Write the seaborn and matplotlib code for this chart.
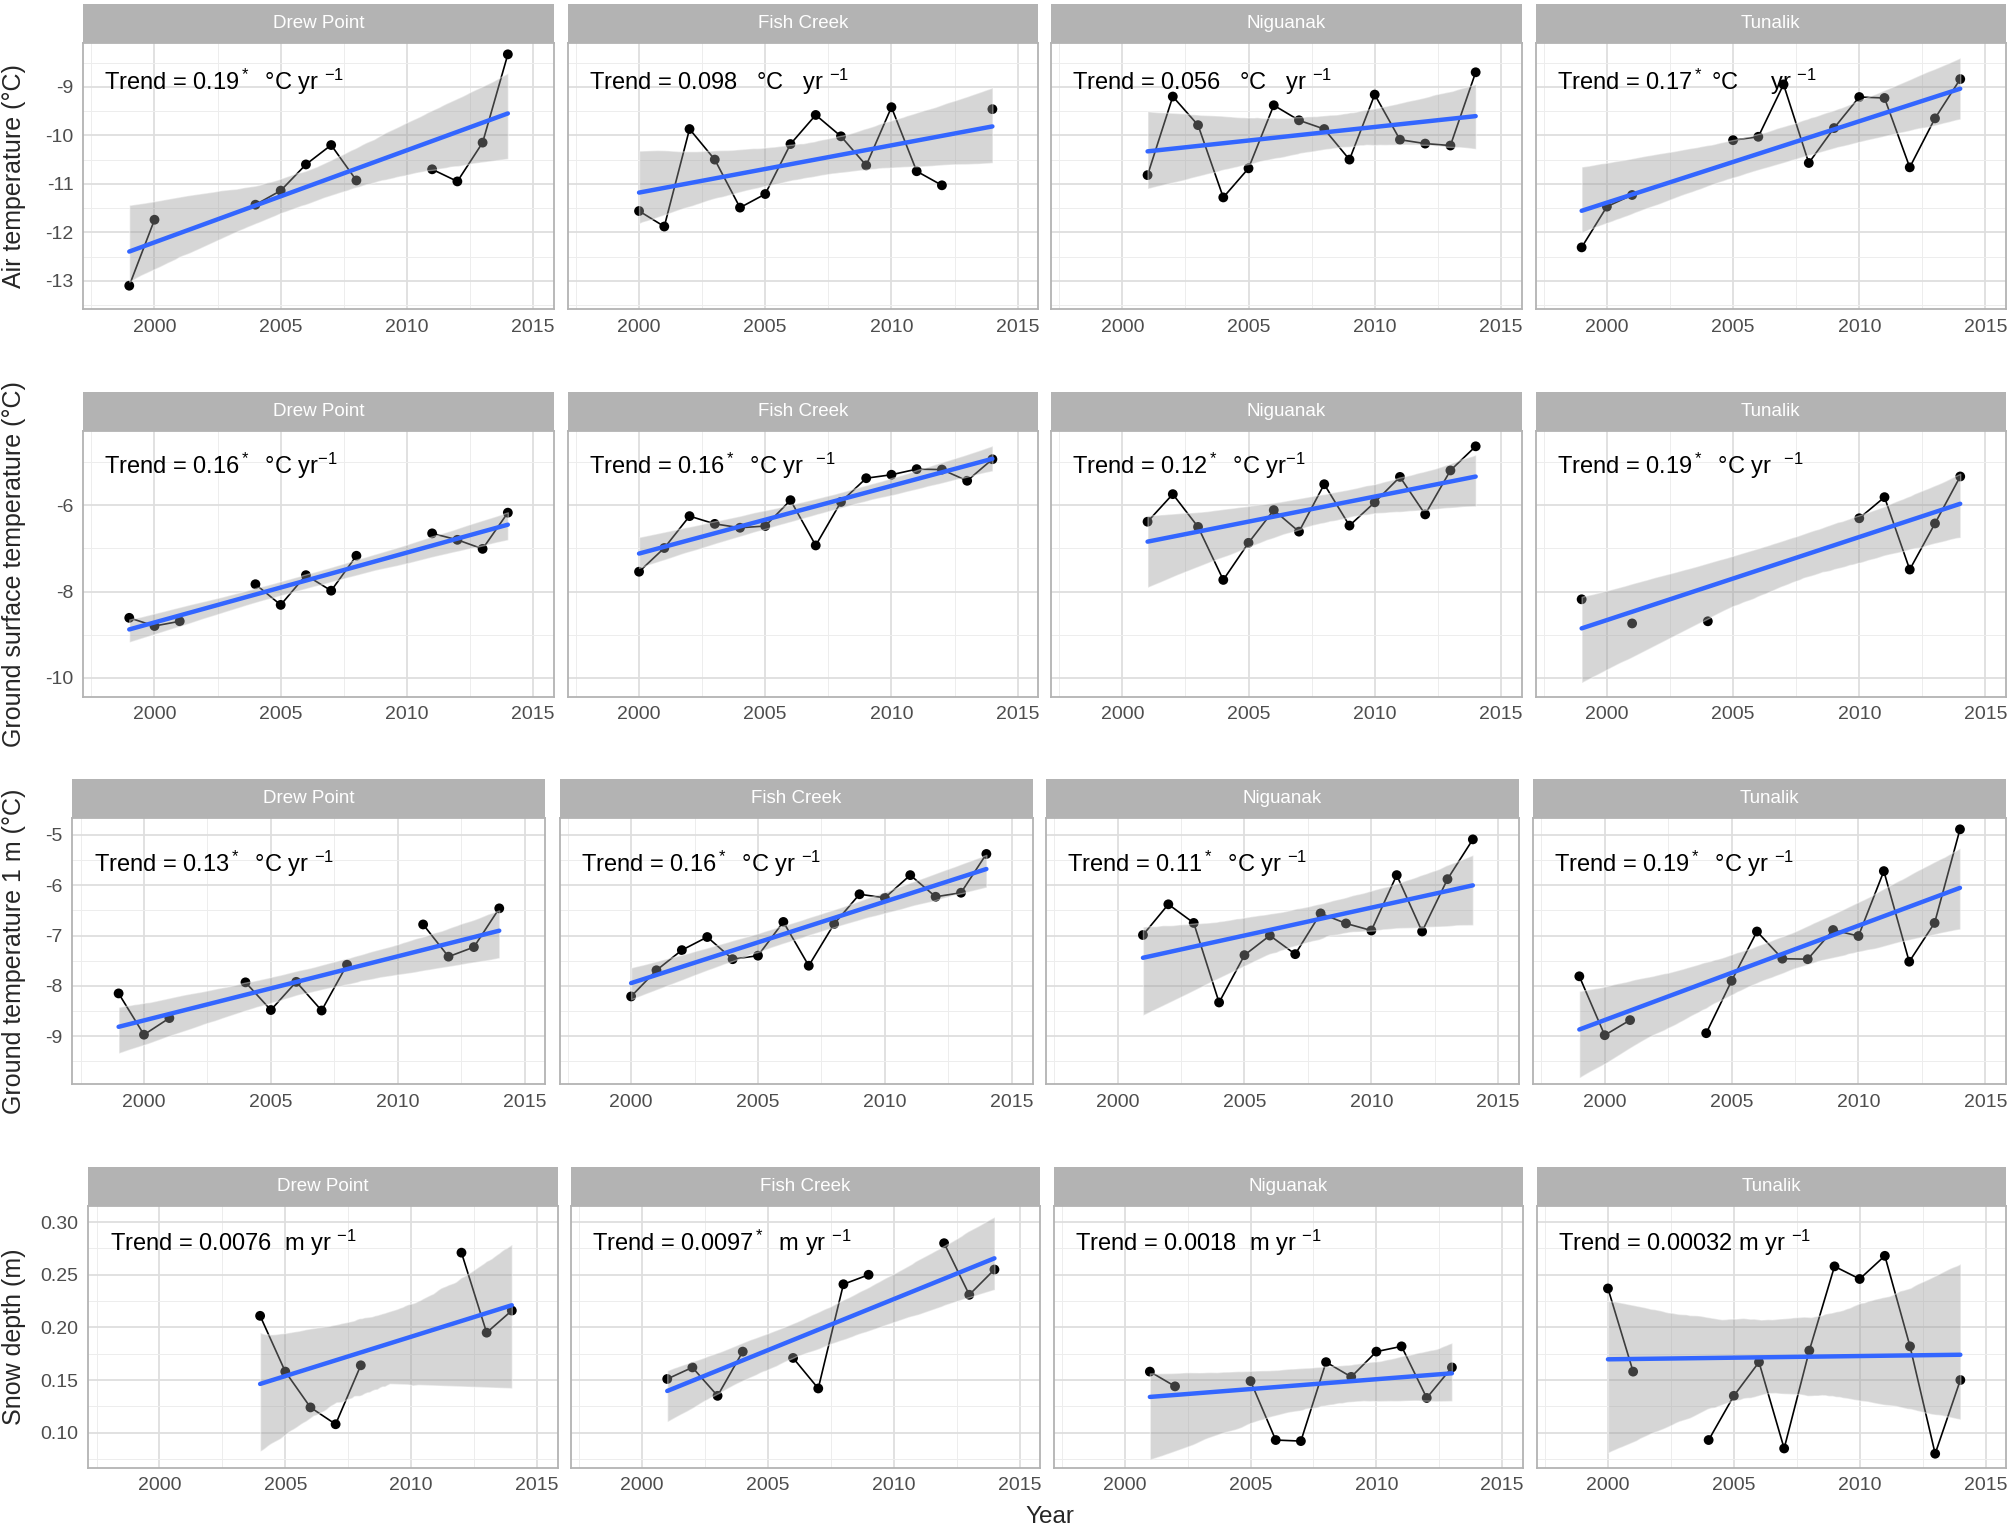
import numpy as np
import pandas as pd
import matplotlib
matplotlib.use("Agg")
import matplotlib.pyplot as plt
from matplotlib.patches import Rectangle
from matplotlib.ticker import MultipleLocator, FormatStrFormatter, FixedLocator
import seaborn as sns

nan = np.nan
years = list(range(1999, 2015))
sites = ["Drew Point", "Fish Creek", "Niguanak", "Tunalik"]

# air temperature (degC), 1999..2014
air_drew = [-13.10, -11.74, nan, nan, nan, -11.43, -11.14, -10.60, -10.20, -10.93, nan, nan, -10.70, -10.95, -10.15, -8.33]
air_fish = [nan, -11.56, -11.88, -9.87, -10.50, -11.49, -11.21, -10.18, -9.58, -10.02, -10.62, -9.42, -10.74, -11.03, nan, -9.46]
air_nig = [nan, nan, -10.82, -9.20, -9.79, -11.28, -10.68, -9.38, -9.69, -9.87, -10.50, -9.16, -10.09, -10.17, -10.21, -8.70]
air_tun = [-12.31, -11.47, -11.23, nan, nan, nan, -10.10, -10.03, -8.95, -10.57, -9.85, -9.21, -9.23, -10.66, -9.65, -8.84]

# ground surface temperature (degC)
gst_drew = [-8.61, -8.80, -8.69, nan, nan, -7.83, -8.31, -7.62, -7.98, -7.17, nan, nan, -6.65, -6.80, -7.01, -6.17]
gst_fish = [nan, -7.54, -6.99, -6.25, -6.43, -6.52, -6.48, -5.88, -6.93, -5.92, -5.37, -5.29, -5.16, -5.17, -5.43, -4.93]
gst_nig = [nan, nan, -6.38, -5.74, -6.50, -7.73, -6.87, -6.11, -6.61, -5.51, -6.47, -5.93, -5.34, -6.21, -5.19, -4.63]
gst_tun = [-8.18, nan, -8.74, nan, nan, -8.69, nan, nan, nan, nan, nan, -6.30, -5.81, -7.49, -6.42, -5.33]

# ground temperature at 1 m (degC)
gt1_drew = [-8.15, -8.97, -8.64, nan, nan, -7.93, -8.48, -7.92, -8.49, -7.58, nan, nan, -6.78, -7.42, -7.23, -6.46]
gt1_fish = [nan, -8.21, -7.69, -7.29, -7.03, -7.47, -7.40, -6.73, -7.60, -6.77, -6.18, -6.25, -5.80, -6.23, -6.15, -5.38]
gt1_nig = [nan, nan, -6.99, -6.38, -6.75, -8.33, -7.39, -7.00, -7.37, -6.56, -6.76, -6.90, -5.80, -6.92, -5.88, -5.09]
gt1_tun = [-7.81, -8.98, -8.68, nan, nan, -8.94, -7.90, -6.92, -7.46, -7.47, -6.89, -7.01, -5.72, -7.52, -6.75, -4.89]

# snow depth (m)
snow_drew = [nan, nan, nan, nan, nan, 0.211, 0.158, 0.124, 0.108, 0.164, nan, nan, nan, 0.271, 0.195, 0.216]
snow_fish = [nan, nan, 0.151, 0.162, 0.135, 0.177, nan, 0.171, 0.142, 0.241, 0.250, nan, nan, 0.280, 0.231, 0.255]
snow_nig = [nan, nan, 0.158, 0.144, nan, nan, 0.149, 0.093, 0.092, 0.167, 0.153, 0.177, 0.182, 0.133, 0.162, nan]
snow_tun = [nan, 0.237, 0.158, nan, nan, 0.093, 0.135, 0.167, 0.085, 0.178, 0.258, 0.246, 0.268, 0.182, 0.080, 0.150]

air_trend = ["Trend = 0.19$^*$  °C yr $^{-1}$", "Trend = 0.098   °C   yr $^{-1}$",
             "Trend = 0.056   °C   yr $^{-1}$", "Trend = 0.17$^*$ °C     yr $^{-1}$"]
gst_trend = ["Trend = 0.16$^*$  °C yr$^{-1}$", "Trend = 0.16$^*$  °C yr  $^{-1}$",
             "Trend = 0.12$^*$  °C yr$^{-1}$", "Trend = 0.19$^*$  °C yr  $^{-1}$"]
gt1_trend = ["Trend = 0.13$^*$  °C yr $^{-1}$", "Trend = 0.16$^*$  °C yr $^{-1}$",
             "Trend = 0.11$^*$  °C yr $^{-1}$", "Trend = 0.19$^*$  °C yr $^{-1}$"]
snow_trend = ["Trend = 0.0076  m yr $^{-1}$", "Trend = 0.0097$^*$  m yr $^{-1}$",
              "Trend = 0.0018  m yr $^{-1}$", "Trend = 0.00032 m yr $^{-1}$"]

sns.set_theme(style="white")
plt.rcParams['font.family'] = ['Liberation Sans', 'DejaVu Sans']
plt.rcParams['mathtext.fontset'] = 'custom'
plt.rcParams['mathtext.rm'] = 'Liberation Sans'
plt.rcParams['mathtext.it'] = 'Liberation Sans:italic'

# layout in pixels of a 1568 x 1191 canvas
W, H = 1568.0, 1191.0
rows = [
    dict(vals=[air_drew, air_fish, air_nig, air_tun], trend=air_trend, lefts=[65, 443, 820, 1198], width=367,
         top=33.3, bottom=241, ylim=(-13.58, -8.09), major=1, minor=0.5, fmt="%d", ty=0.854,
         label="Air temperature (°C)"),
    dict(vals=[gst_drew, gst_fish, gst_nig, gst_tun], trend=gst_trend, lefts=[65, 443, 820, 1198], width=367,
         top=336, bottom=543.4, ylim=(-10.44, -4.27), major=2, minor=1, fmt="%d", ty=0.867,
         label="Ground surface temperature (°C)"),
    dict(vals=[gt1_drew, gt1_fish, gt1_nig, gt1_tun], trend=gt1_trend, lefts=[56.5, 436.5, 816, 1196], width=369,
         top=637.8, bottom=845.5, ylim=(-9.95, -4.66), major=1, minor=0.5, fmt="%d", ty=0.825,
         label="Ground temperature 1 m (°C)"),
    dict(vals=[snow_drew, snow_fish, snow_nig, snow_tun], trend=snow_trend, lefts=[69, 445.5, 822, 1199], width=366,
         top=940.5, bottom=1144.6, ylim=(0.0669, 0.3155), major=0.05, minor=0.025, fmt="%.2f", ty=0.858,
         label="Snow depth (m)"),
]
strip_h = 30

fig = plt.figure(figsize=(20.1, 15.27), dpi=100)

for row in rows:
    ph = row["bottom"] - row["top"]
    for i, site in enumerate(sites):
        ax = fig.add_axes([row["lefts"][i] / W, 1 - row["bottom"] / H, row["width"] / W, ph / H])
        df = pd.DataFrame({"year": years, "value": row["vals"][i]})
        df["seg"] = df["value"].isna().cumsum()
        df = df.dropna()

        sns.lineplot(data=df, x="year", y="value", units="seg", estimator=None,
                     color="black", lw=1.2, ax=ax, zorder=3)
        sns.scatterplot(data=df, x="year", y="value", color="black", s=50,
                        edgecolor="none", ax=ax, zorder=3)
        sns.regplot(data=df, x="year", y="value", scatter=False, ci=95, seed=1,
                    truncate=True, line_kws={"color": "#3366FF", "lw": 3.2, "zorder": 5}, ax=ax)
        band = ax.collections[-1]
        band.set_facecolor("#999999")
        band.set_alpha(0.4)
        band.set_zorder(4)

        ax.set_xlim(1997.18, 2015.82)
        ax.set_ylim(*row["ylim"])
        ax.xaxis.set_major_locator(FixedLocator([2000, 2005, 2010, 2015]))
        ax.xaxis.set_minor_locator(FixedLocator([1997.5, 2002.5, 2007.5, 2012.5]))
        ax.yaxis.set_major_locator(MultipleLocator(row["major"]))
        ax.yaxis.set_minor_locator(MultipleLocator(row["minor"]))
        ax.yaxis.set_major_formatter(FormatStrFormatter(row["fmt"]))
        if i > 0:
            ax.tick_params(axis="y", which="both", labelleft=False, length=0)
        ax.set_xlabel("")
        ax.set_ylabel("")
        ax.set_axisbelow(True)
        ax.grid(which="major", color="#dedede", lw=1.3)
        ax.grid(which="minor", color="#ededed", lw=0.7)
        ax.tick_params(which="major", length=4, width=1, color="#b3b3b3",
                       labelcolor="#4d4d4d", labelsize=14, pad=3)
        ax.tick_params(which="minor", length=0)
        for sp in ax.spines.values():
            sp.set_color("#b3b3b3")
            sp.set_linewidth(1.3)

        sh = strip_h / ph
        ax.add_patch(Rectangle((0, 1), 1, sh, transform=ax.transAxes, facecolor="#b3b3b3",
                               edgecolor="none", clip_on=False))
        ax.text(0.5, 1 + sh / 2, site, transform=ax.transAxes, ha="center", va="center",
                color="white", fontsize=13.5)
        ax.text(0.045, row["ty"], row["trend"][i], transform=ax.transAxes, ha="left",
                va="center", fontsize=17, color="black")

    fig.text(11 / W, 1 - (row["top"] + ph / 2) / H, row["label"], rotation=90,
             ha="center", va="center", fontsize=18)

fig.text(819 / W, 1 - 1183 / H, "Year", ha="center", va="center", fontsize=17.5)

plt.savefig("out.png", dpi=100)
